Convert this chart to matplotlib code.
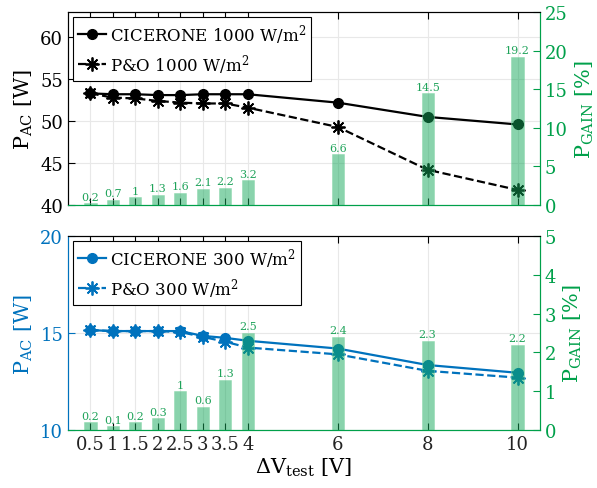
import matplotlib

matplotlib.use("Agg")
import matplotlib.pyplot as plt
from matplotlib.lines import Line2D

# data
dv_test = [0.5, 1, 1.5, 2, 2.5, 3, 3.5, 4, 6, 8, 10]
xtick_labels = ["0.5", "1", "1.5", "2", "2.5", "3", "3.5", "4", "6", "8", "10"]

cicerone_1000 = [53.3, 53.2, 53.2, 53.1, 53.1, 53.2, 53.2, 53.2, 52.2, 50.5, 49.6]
po_1000 = [53.3, 52.8, 52.7, 52.4, 52.2, 52.1, 52.1, 51.6, 49.3, 44.2, 41.8]
gain_1000 = [0.2, 0.7, 1, 1.3, 1.6, 2.1, 2.2, 3.2, 6.6, 14.5, 19.2]

cicerone_300 = [15.15, 15.1, 15.1, 15.1, 15.1, 14.85, 14.75, 14.6, 14.2, 13.35, 12.95]
po_300 = [15.15, 15.1, 15.1, 15.1, 15.05, 14.8, 14.55, 14.25, 13.9, 13.05, 12.7]
gain_300 = [0.2, 0.1, 0.2, 0.3, 1, 0.6, 1.3, 2.5, 2.4, 2.3, 2.2]

BLUE = "#0072BD"
GREEN = "#00A04A"
BAR_GREEN = "#14A85A"
TEXT_GREEN = "#1FA35A"
GRID = "#e8e8e8"
ASTERISK = (8, 2, 0)

plt.rcParams["font.family"] = ["DejaVu Serif"]
plt.rcParams["mathtext.fontset"] = "dejavuserif"


def panel(ax, cic, po, gain, color, irr, ylim, yticks, glim, gticks, label_pad):
    ax.set_xlim(0, 10.5)
    ax.set_ylim(*ylim)
    ax.set_yticks(yticks)
    ax.set_xticks(dv_test)
    ax.grid(True, color=GRID, linewidth=0.8)
    ax.set_axisbelow(True)
    ax.plot(dv_test, cic, "-o", color=color, lw=1.6, ms=7)
    ax.plot(dv_test, po, "--", marker=ASTERISK, color=color, lw=1.6, ms=10, mew=1.3)
    ax.tick_params(axis="both", direction="in", top=True, labelsize=13, length=5)
    ax.tick_params(axis="y", colors=color, labelcolor=color)
    ax.set_ylabel(r"P$_{\mathrm{AC}}$ [W]", fontsize=15, color=color, labelpad=4)

    ax2 = ax.twinx()
    ax2.set_ylim(*glim)
    ax2.set_yticks(gticks)
    ax2.bar(dv_test, gain, width=0.27, color=BAR_GREEN, alpha=0.5,
            edgecolor="#7fd4a4", linewidth=0.6)
    for x, g in zip(dv_test, gain):
        ax2.text(x, g + label_pad, f"{g:g}", ha="center", va="bottom",
                 fontsize=8, color=TEXT_GREEN)
    ax2.tick_params(axis="y", direction="in", colors=GREEN, labelcolor=GREEN,
                    labelsize=13, length=5)
    ax2.set_ylabel(r"P$_{\mathrm{GAIN}}$ [%]", fontsize=15, color=GREEN, labelpad=4)

    for a in (ax, ax2):
        a.spines["left"].set_color(color)
        a.spines["right"].set_color(GREEN)
        a.spines["bottom"].set_color(GREEN)
        a.spines["top"].set_color("black")

    handles = [
        Line2D([], [], color=color, ls="-", marker="o", lw=1.6, ms=7),
        Line2D([], [], color=color, ls="--", marker=ASTERISK, lw=1.6, ms=10, mew=1.3),
    ]
    labels = [
        rf"CICERONE {irr} W/m$^2$",
        rf"P&O {irr} W/m$^2$",
    ]
    leg = ax2.legend(handles, labels, loc="upper left", fontsize=12,
                     fancybox=False, framealpha=1, edgecolor="black",
                     handlelength=1.7, handletextpad=0.2, borderaxespad=0.3,
                     borderpad=0.3, labelspacing=0.35)
    leg.get_frame().set_linewidth(0.8)
    return ax2


fig = plt.figure(figsize=(5.97, 4.89), dpi=100)
ax_top = fig.add_axes([0.1139, 0.5787, 0.7906, 0.3947])
ax_bot = fig.add_axes([0.1139, 0.1186, 0.7906, 0.3967])

panel(ax_top, cicerone_1000, po_1000, gain_1000, "black", 1000,
      (40, 63), [40, 45, 50, 55, 60], (0, 25), [0, 5, 10, 15, 20, 25], 0.2)
ax_top.tick_params(axis="x", labelbottom=False)

panel(ax_bot, cicerone_300, po_300, gain_300, BLUE, 300,
      (10, 20), [10, 15, 20], (0, 5), [0, 1, 2, 3, 4, 5], 0.04)
ax_bot.set_xticklabels(xtick_labels)
ax_bot.tick_params(axis="x", colors="black", labelcolor="#222222")
ax_bot.set_xlabel(r"$\Delta$V$_{\mathrm{test}}$ [V]", fontsize=15, labelpad=2)

fig.savefig("out.png", dpi=100)
